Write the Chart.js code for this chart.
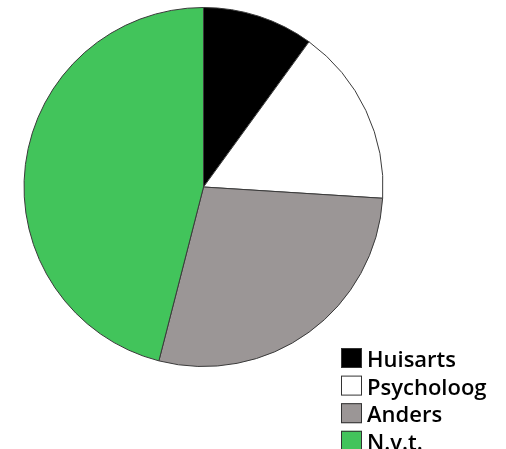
<!DOCTYPE html>
<html>
<head>
<meta charset="utf-8">
<script src="https://cdn.jsdelivr.net/npm/chart.js@4.4.0/dist/chart.umd.min.js"></script>
<style>
  html, body { margin: 0; padding: 0; background: #fff; }
  #wrap { width: 506px; height: 449px; }
</style>
</head>
<body>
<div id="wrap"><canvas id="pieChart" width="506" height="449"></canvas></div>
<script>
const labels = ['Huisarts', 'Psycholoog', 'Anders', 'N.v.t.'];
const values = [10, 16, 28, 46];
const colors = ['#000000', '#ffffff', '#9b9696', '#42c45b'];

// legend drawn by hand in the lower right corner
const boxLegend = {
  id: 'boxLegend',
  afterDraw(chart) {
    const ctx = chart.ctx;
    const ds = chart.data.datasets[0];
    ctx.save();
    ctx.font = '600 22px "Open Sans", sans-serif';
    ctx.textBaseline = 'alphabetic';
    chart.data.labels.forEach((lab, i) => {
      const y = 348 + i * 27.6;
      ctx.fillStyle = ds.backgroundColor[i];
      ctx.fillRect(341, y, 21, 20);
      ctx.strokeStyle = '#333';
      ctx.lineWidth = 1;
      ctx.strokeRect(341.5, y + 0.5, 20, 19);
      ctx.fillStyle = '#000';
      ctx.fillText(lab, 367, y + 19);
    });
    ctx.restore();
  }
};

new Chart(document.getElementById('pieChart').getContext('2d'), {
  type: 'pie',
  data: {
    labels: labels,
    datasets: [{
      data: values,
      backgroundColor: colors,
      borderColor: '#3a3a3a',
      borderWidth: 1
    }]
  },
  options: {
    responsive: false,
    animation: false,
    layout: { padding: { left: 23, top: 7, right: 122, bottom: 82 } },
    plugins: {
      legend: { display: false },
      tooltip: { enabled: false }
    }
  },
  plugins: [boxLegend]
});
</script>
</body>
</html>
